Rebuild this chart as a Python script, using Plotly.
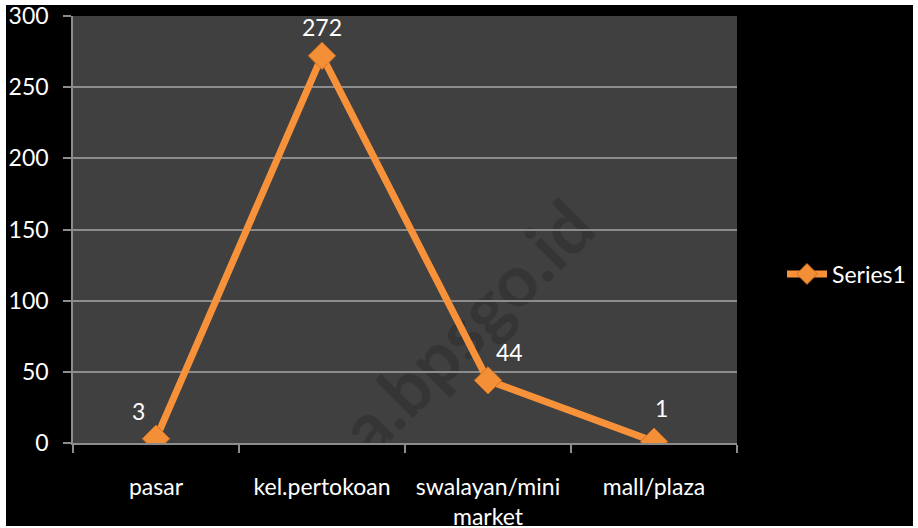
import plotly.graph_objects as go

categories = ["pasar", "kel.pertokoan", "swalayan/mini<br>market", "mall/plaza"]
values = [3, 272, 44, 1]
series_name = "Series1"
y_ticks = [0, 50, 100, 150, 200, 250, 300]
label_xshift = [-18, 0, 21, 7]
label_yshift = [28, 29, 28, 34]

W, H = 918, 528
L, R, T, B = 73, 737, 16, 443

def px_x(p):
    return (p - L) / (R - L)

def px_y(p):
    return (B - p) / (B - T)

FONT = "Lato"
ORANGE = "#F7923A"

fig = go.Figure()
fig.add_trace(go.Scatter(
    x=categories, y=values, name=series_name, mode="lines+markers",
    line=dict(color=ORANGE, width=7),
    marker=dict(symbol="diamond", size=21, color="#F39037",
                line=dict(color="#D4701F", width=1)),
    showlegend=True,
))

for c, v, dx, dy in zip(categories, values, label_xshift, label_yshift):
    fig.add_annotation(x=c, y=v, text=str(v), showarrow=False,
                       xshift=dx, yshift=dy,
                       font=dict(family=FONT, size=23, color="white"))

fig.add_shape(type="rect", xref="paper", yref="paper",
              x0=px_x(6), x1=px_x(913), y0=px_y(526), y1=px_y(5),
              fillcolor="black", line=dict(width=0), layer="below")
fig.add_shape(type="rect", xref="paper", yref="paper",
              x0=0, x1=1, y0=0, y1=1,
              fillcolor="#404040", line=dict(width=0), layer="below")
fig.add_shape(type="rect", xref="paper", yref="paper",
              x0=px_x(355), x1=px_x(575), y0=px_y(440), y1=px_y(210),
              fillcolor="rgba(0,0,0,0)", line=dict(width=0), layer="below",
              label=dict(text="a.bpsgo.id", textangle=-45,
                         textposition="middle center",
                         font=dict(family=FONT, size=72, color="rgba(0,0,0,0.17)",
                                   weight="bold")))

fig.update_layout(
    width=W, height=H,
    margin=dict(l=L, r=W - R, t=T, b=H - B, pad=0, autoexpand=False),
    paper_bgcolor="white",
    plot_bgcolor="rgba(0,0,0,0)",
    font=dict(family=FONT, size=23, color="white"),
    legend=dict(x=px_x(782), y=px_y(274), xanchor="left", yanchor="middle",
                bgcolor="rgba(0,0,0,0)", font=dict(family=FONT, size=23, color="white"),
                itemwidth=40),
    xaxis=dict(type="category", tickson="boundaries", ticks="outside", ticklen=8,
               tickcolor="#8C8C8C", tickwidth=1.5, showline=True, linecolor="#8C8C8C",
               linewidth=1.5, showgrid=False, ticklabelstandoff=23, automargin=False,
               tickfont=dict(family=FONT, size=23, color="white"),
               range=[-0.5, 3.5]),
    yaxis=dict(range=[0, 300], tickvals=y_ticks, ticks="outside", ticklen=8,
               tickcolor="#8C8C8C", tickwidth=1.5, showline=True, linecolor="#8C8C8C",
               linewidth=1.5, gridcolor="#8C8C8C", gridwidth=1.5, zeroline=False,
               ticklabelstandoff=10, automargin=False,
               tickfont=dict(family=FONT, size=23, color="white")),
)

fig.write_html("out.html", config={"displayModeBar": False},
               post_script="document.body.style.margin='0';document.body.style.overflow='hidden';")
